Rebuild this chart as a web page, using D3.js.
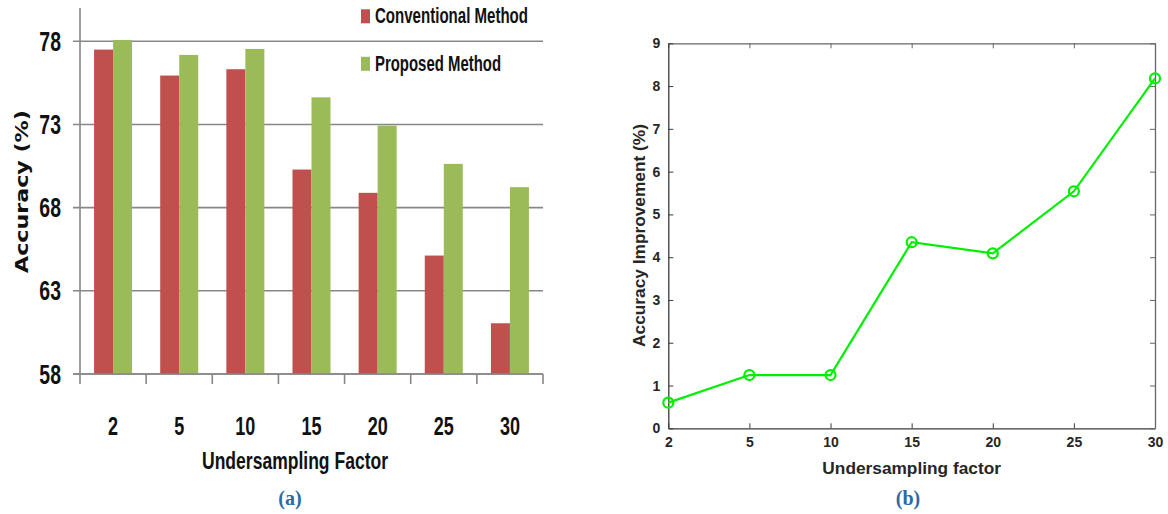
<!DOCTYPE html>
<html>
<head>
<meta charset="utf-8">
<script src="https://cdn.jsdelivr.net/npm/d3@7"></script>
<style>
  html, body { margin: 0; padding: 0; background: #fff; }
  svg { display: block; }
</style>
</head>
<body>
<svg id="fig" width="1168" height="514"></svg>
<script>
// Undersampling factors shared by both panels
const factors = ["2", "5", "10", "15", "20", "25", "30"];

// Panel (a): accuracy (%) of each method
const conventional = [77.5, 75.94, 76.32, 70.29, 68.89, 65.12, 61.05];
const proposed     = [78.08, 77.18, 77.54, 74.63, 72.93, 70.63, 69.23];
const seriesNames  = ["Conventional Method", "Proposed Method"];
const accTicks     = [58, 63, 68, 73, 78];

// Panel (b): accuracy improvement (%)
const improvement  = [0.6, 1.245, 1.245, 4.35, 4.09, 5.54, 8.18];
const impTicks     = [0, 1, 2, 3, 4, 5, 6, 7, 8, 9];

const svg = d3.select("#fig");
const condensed = "'Liberation Sans', Arial, sans-serif";
const squeeze = 0.72;   // horizontal squeeze for the narrow lettering of panel (a)

// ---------------- Panel (a): grouped bars ----------------
const A = { left: 80, right: 543, top: 8, bottom: 374 };
const xA = d3.scaleBand().domain(factors).range([A.left, A.right]).padding(0);
const xSeries = d3.scaleBand().domain(seriesNames).range([0, xA.bandwidth()])
  .paddingInner(0).paddingOuter(0.74);
const yA = d3.scaleLinear().domain([58, 80]).range([A.bottom, A.top]);
const colors = { "Conventional Method": "#c0504d", "Proposed Method": "#9bbb59" };

const gA = svg.append("g");

// horizontal gridlines (with outward tick stubs)
gA.append("g").selectAll("line").data(accTicks).join("line")
  .attr("x1", A.left - 7).attr("x2", A.right)
  .attr("y1", d => yA(d)).attr("y2", d => yA(d))
  .attr("stroke", "#878787").attr("stroke-width", 1.6);

// y tick labels
gA.append("g").selectAll("text").data(accTicks).join("text")
  .attr("transform", d => `translate(61,${yA(d) + 9.5}) scale(${squeeze},1)`)
  .attr("text-anchor", "end")
  .attr("font-family", condensed).attr("font-weight", "bold")
  .attr("font-size", 27).attr("fill", "#111")
  .text(d => d);

// bars
const rows = factors.map((f, i) => ({ f, vals: [
  { s: seriesNames[0], v: conventional[i] },
  { s: seriesNames[1], v: proposed[i] } ] }));

gA.append("g").selectAll("g").data(rows).join("g")
  .attr("transform", d => `translate(${xA(d.f)},0)`)
  .selectAll("rect").data(d => d.vals).join("rect")
  .attr("x", d => xSeries(d.s))
  .attr("width", xSeries.bandwidth())
  .attr("y", d => yA(d.v))
  .attr("height", d => yA(58) - yA(d.v))
  .attr("fill", d => colors[d.s]);

// y axis line
gA.append("line")
  .attr("x1", A.left).attr("x2", A.left)
  .attr("y1", A.top).attr("y2", A.bottom)
  .attr("stroke", "#878787").attr("stroke-width", 1.6);

// x axis line and category separators
gA.append("line")
  .attr("x1", A.left - 7).attr("x2", A.right)
  .attr("y1", A.bottom).attr("y2", A.bottom)
  .attr("stroke", "#878787").attr("stroke-width", 1.6);
const sepX = factors.map(f => xA(f)).concat([A.right]);
gA.append("g").selectAll("line").data(sepX).join("line")
  .attr("x1", d => d).attr("x2", d => d)
  .attr("y1", A.bottom).attr("y2", A.bottom + 10)
  .attr("stroke", "#878787").attr("stroke-width", 1.6);

// x tick labels
gA.append("g").selectAll("text").data(factors).join("text")
  .attr("transform", d => `translate(${xA(d) + xA.bandwidth() / 2},434.5) scale(${squeeze},1)`)
  .attr("text-anchor", "middle")
  .attr("font-family", condensed).attr("font-weight", "bold")
  .attr("font-size", 25).attr("fill", "#111")
  .text(d => d);

// axis titles
gA.append("text")
  .attr("x", 295).attr("y", 469)
  .attr("text-anchor", "middle")
  .attr("font-family", condensed).attr("font-weight", "bold")
  .attr("font-size", 24).attr("fill", "#111")
  .attr("textLength", 186).attr("lengthAdjust", "spacingAndGlyphs")
  .text("Undersampling Factor");

gA.append("text")
  .attr("transform", "translate(27.5,191.5) rotate(-90)")
  .attr("text-anchor", "middle")
  .attr("font-family", "'DejaVu Sans', Verdana, sans-serif").attr("font-weight", "bold")
  .attr("font-size", 18).attr("fill", "#111")
  .attr("textLength", 163).attr("lengthAdjust", "spacingAndGlyphs")
  .text("Accuracy (%)");

// legend
const legend = gA.append("g").selectAll("g").data(seriesNames).join("g")
  .attr("transform", (d, i) => `translate(361,${9.3 + i * 47.5})`);
legend.append("rect")
  .attr("width", 9).attr("height", 14)
  .attr("fill", d => colors[d]);
legend.append("text")
  .attr("x", 14).attr("y", 14)
  .attr("font-family", condensed).attr("font-weight", "bold")
  .attr("font-size", 22).attr("fill", "#111")
  .attr("textLength", (d, i) => i === 0 ? 153 : 126)
  .attr("lengthAdjust", "spacingAndGlyphs")
  .text(d => d);

// panel label
gA.append("text")
  .attr("x", 290).attr("y", 505)
  .attr("text-anchor", "middle")
  .attr("font-family", "'Liberation Serif', 'Times New Roman', serif").attr("font-weight", "bold")
  .attr("font-size", 20).attr("fill", "#2a6aa8")
  .text("(a)");

// ---------------- Panel (b): improvement line ----------------
const B = { left: 668.3, right: 1155, top: 43.3, bottom: 428.3 };
const xB = d3.scalePoint().domain(factors).range([B.left, B.right]);
const yB = d3.scaleLinear().domain([0, 9]).range([B.bottom, B.top]);
const axisColor = "#3a3a3a";
const gB = svg.append("g");

// bottom axis with inward ticks
gB.append("g")
  .attr("transform", `translate(0,${B.bottom})`)
  .call(d3.axisBottom(xB).tickSizeInner(-5).tickSizeOuter(0).tickPadding(9))
  .call(g => {
    g.select(".domain").attr("stroke", axisColor).attr("stroke-width", 1.3);
    g.selectAll(".tick line").attr("stroke", axisColor);
    g.selectAll("text").attr("font-family", "'Liberation Sans', Arial, sans-serif")
      .attr("font-weight", "bold").attr("font-size", 14).attr("fill", "#262626");
  });

// top axis (ticks only)
gB.append("g")
  .attr("transform", `translate(0,${B.top})`)
  .call(d3.axisTop(xB).tickSizeInner(-5).tickSizeOuter(0).tickFormat(""))
  .call(g => {
    g.select(".domain").attr("stroke", "#666").attr("stroke-width", 1.3);
    g.selectAll(".tick line").attr("stroke", "#666");
  });

// left axis with inward ticks
gB.append("g")
  .attr("transform", `translate(${B.left},0)`)
  .call(d3.axisLeft(yB).tickValues(impTicks).tickSizeInner(-5).tickSizeOuter(0).tickPadding(8))
  .call(g => {
    g.select(".domain").attr("stroke", axisColor).attr("stroke-width", 1.3);
    g.selectAll(".tick line").attr("stroke", axisColor);
    g.selectAll("text").attr("font-family", "'Liberation Sans', Arial, sans-serif")
      .attr("font-weight", "bold").attr("font-size", 14).attr("fill", "#262626");
  });

// right axis (ticks only)
gB.append("g")
  .attr("transform", `translate(${B.right},0)`)
  .call(d3.axisRight(yB).tickValues(impTicks).tickSizeInner(-5).tickSizeOuter(0).tickFormat(""))
  .call(g => {
    g.select(".domain").attr("stroke", "#666").attr("stroke-width", 1.3);
    g.selectAll(".tick line").attr("stroke", "#666");
  });

// improvement line with open circle markers
const line = d3.line().x((d, i) => xB(factors[i])).y(d => yB(d));
gB.append("path")
  .datum(improvement)
  .attr("d", line)
  .attr("fill", "none").attr("stroke", "#00ee00").attr("stroke-width", 2.2);
gB.append("g").selectAll("circle").data(improvement).join("circle")
  .attr("cx", (d, i) => xB(factors[i]))
  .attr("cy", d => yB(d))
  .attr("r", 5)
  .attr("fill", "none").attr("stroke", "#00ee00").attr("stroke-width", 2.2);

// axis titles
gB.append("text")
  .attr("x", (B.left + B.right) / 2).attr("y", 474)
  .attr("text-anchor", "middle")
  .attr("font-family", "'Liberation Sans', Arial, sans-serif").attr("font-weight", "bold")
  .attr("font-size", 17.3).attr("fill", "#262626")
  .text("Undersampling factor");

gB.append("text")
  .attr("transform", "translate(645,235.5) rotate(-90)")
  .attr("text-anchor", "middle")
  .attr("font-family", "'Liberation Sans', Arial, sans-serif").attr("font-weight", "bold")
  .attr("font-size", 17.3).attr("fill", "#262626")
  .text("Accuracy Improvement (%)");

// panel label
gB.append("text")
  .attr("x", 908).attr("y", 505)
  .attr("text-anchor", "middle")
  .attr("font-family", "'Liberation Serif', 'Times New Roman', serif").attr("font-weight", "bold")
  .attr("font-size", 20).attr("fill", "#2a6aa8")
  .text("(b)");
</script>
</body>
</html>
